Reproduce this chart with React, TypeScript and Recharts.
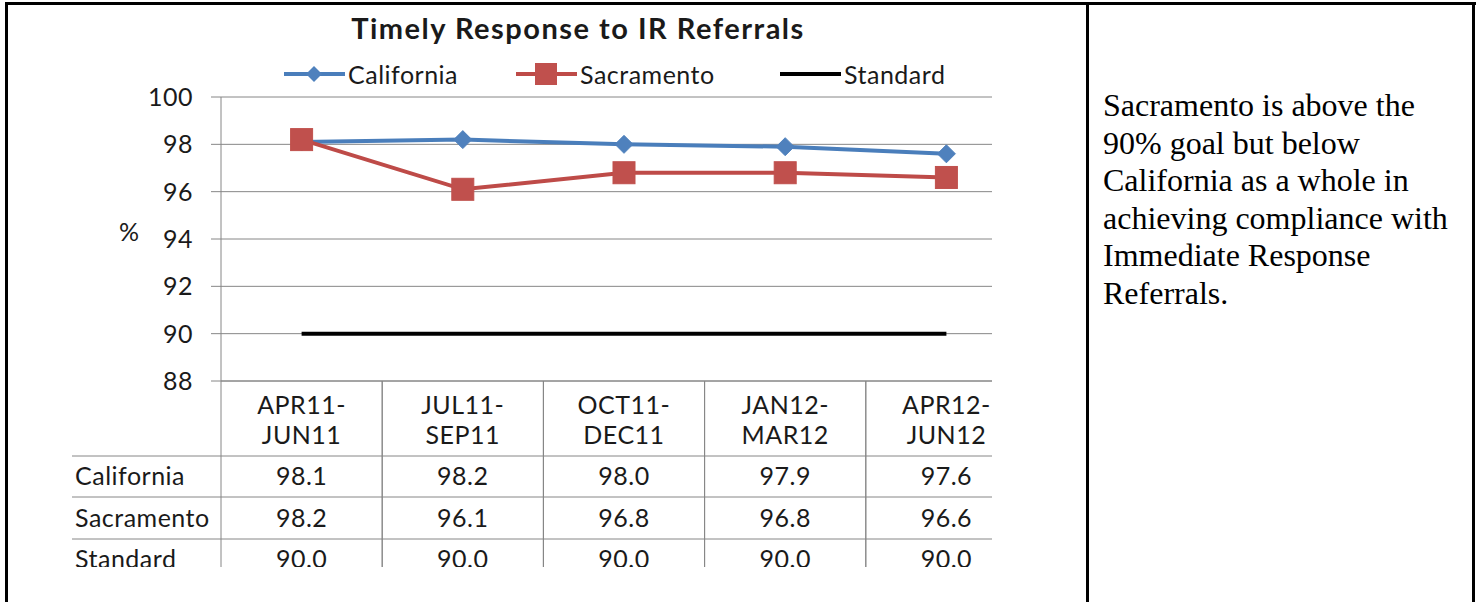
import React from "react";
import { LineChart, Line, XAxis, YAxis, CartesianGrid, Legend } from "recharts";

const categories = ["APR11-JUN11", "JUL11-SEP11", "OCT11-DEC11", "JAN12-MAR12", "APR12-JUN12"];
const californiaValues = [98.1, 98.2, 98.0, 97.9, 97.6];
const sacramentoValues = [98.2, 96.1, 96.8, 96.8, 96.6];
const standardValues = [90.0, 90.0, 90.0, 90.0, 90.0];
const yTicks = [88, 90, 92, 94, 96, 98, 100];
const seriesNames = ["California", "Sacramento", "Standard"];
const seriesColors = ["#4A7EBB", "#BE4B48", "#000000"];
const markerColors = ["#4F81BD", "#C0504D", "#000000"];
const seriesValues = [californiaValues, sacramentoValues, standardValues];
const titleText = "Timely Response to IR Referrals";
const noteText =
  "Sacramento is above the 90% goal but below California as a whole in achieving compliance with Immediate Response Referrals.";

const data = categories.map((c, i) => ({
  cat: c,
  California: californiaValues[i],
  Sacramento: sacramentoValues[i],
  Standard: standardValues[i],
}));

const FONT = "Lato, 'Open Sans', sans-serif";
const FS = 25;
const LS = 0.5;
const PLOT_LEFT = 221;
const PLOT_RIGHT = 1027;
const PLOT_TOP = 97;
const PLOT_H = 284;
const TABLE_H = 186;
const BAND = (PLOT_RIGHT - PLOT_LEFT) / categories.length;
const GRID = "#868686";
const TEXT = "#1a1a1a";

const Diamond = (props: any) => {
  const { cx, cy } = props;
  if (cx == null || cy == null) return null;
  const r = 9;
  return (
    <polygon
      points={`${cx},${cy - r} ${cx + r},${cy} ${cx},${cy + r} ${cx - r},${cy}`}
      fill={markerColors[0]}
      stroke={markerColors[0]}
      strokeWidth={1}
    />
  );
};

const Square = (props: any) => {
  const { cx, cy } = props;
  if (cx == null || cy == null) return null;
  const h = 11;
  return <rect x={cx - h} y={cy - h} width={h * 2} height={h * 2} fill={markerColors[1]} stroke={markerColors[1]} />;
};

const txt = { fontFamily: FONT, fontSize: FS, fill: TEXT, letterSpacing: LS } as const;

const TableTick = (props: any) => {
  const { x, y, payload, index } = props;
  const label: string = String(payload.value);
  const cut = label.indexOf("-") + 1;
  const l1 = label.slice(0, cut);
  const l2 = label.slice(cut);
  const left = x - BAND / 2;
  const right = x + BAND / 2;
  const rowLines = [75, 116, 158];
  const rowCenters = [94, 136, 177];
  return (
    <g>
      <line x1={left} y1={y} x2={left} y2={y + TABLE_H} stroke={GRID} strokeWidth={1} />
      <line x1={right} y1={y} x2={right} y2={y + TABLE_H} stroke={GRID} strokeWidth={1} />
      {rowLines.map((dy, k) => (
        <line key={k} x1={index === 0 ? 72 : left} y1={y + dy} x2={right} y2={y + dy} stroke={GRID} strokeWidth={1} />
      ))}
      <text x={x} y={y + 23} textAnchor="middle" dominantBaseline="central" {...txt}>
        {l1}
      </text>
      <text x={x} y={y + 53} textAnchor="middle" dominantBaseline="central" {...txt}>
        {l2}
      </text>
      {seriesValues.map((vals, k) => (
        <text key={k} x={x} y={y + rowCenters[k]} textAnchor="middle" dominantBaseline="central" {...txt}>
          {vals[index].toFixed(1)}
        </text>
      ))}
      {index === 0 &&
        seriesNames.map((n, k) => (
          <text key={"n" + k} x={75} y={y + rowCenters[k]} textAnchor="start" dominantBaseline="central" {...txt}>
            {n}
          </text>
        ))}
    </g>
  );
};

const legendLefts = [284, 516, 780];

const LegendContent = () => (
  <div style={{ position: "relative", width: 992, height: 30 }}>
    {seriesNames.map((n, i) => (
      <div
        key={n}
        style={{
          position: "absolute",
          left: legendLefts[i],
          top: 0,
          height: 30,
          display: "flex",
          alignItems: "center",
          fontFamily: FONT,
          fontSize: FS,
          letterSpacing: LS,
          color: TEXT,
          whiteSpace: "nowrap",
        }}
      >
        <svg width={61} height={30} style={{ display: "block" }}>
          <line x1={0} y1={15} x2={61} y2={15} stroke={seriesColors[i]} strokeWidth={4} />
          {i === 0 && <polygon points="30,7 38,15 30,23 22,15" fill={markerColors[0]} />}
          {i === 1 && <rect x={19} y={4} width={22} height={22} fill={markerColors[1]} />}
        </svg>
        <span style={{ marginLeft: 3 }}>{n}</span>
      </div>
    ))}
  </div>
);

export default function App() {
  return (
    <div style={{ position: "absolute", left: 0, top: 0, width: 1481, height: 602, background: "#fff", overflow: "hidden" }}>
      <div style={{ position: "absolute", left: 5, top: 2, width: 1471, height: 3, background: "#000" }} />
      <div style={{ position: "absolute", left: 5, top: 2, width: 3, height: 600, background: "#000" }} />
      <div style={{ position: "absolute", left: 1086, top: 2, width: 3, height: 600, background: "#000" }} />
      <div style={{ position: "absolute", left: 1472, top: 2, width: 3, height: 600, background: "#000" }} />

      <div
        style={{
          position: "absolute",
          left: 1103,
          top: 87,
          width: 352,
          fontFamily: "'Liberation Serif', 'Times New Roman', serif",
          fontSize: 32,
          lineHeight: "37.5px",
          color: "#000",
        }}
      >
        {noteText}
      </div>

      <div style={{ position: "absolute", left: 0, top: 0, width: 992, height: 567, overflow: "hidden" }}>
        <div
          style={{
            position: "absolute",
            left: 0,
            top: 11,
            width: 1156,
            textAlign: "center",
            fontFamily: FONT,
            fontWeight: 700,
            fontSize: 29,
            letterSpacing: 1.5,
            color: TEXT,
            lineHeight: "34px",
          }}
        >
          {titleText}
        </div>
        <LineChart
          width={PLOT_RIGHT}
          height={PLOT_TOP + PLOT_H + TABLE_H}
          data={data}
          margin={{ top: PLOT_TOP, right: 0, left: 0, bottom: 0 }}
        >
          <CartesianGrid horizontal vertical={false} stroke={GRID} strokeWidth={1} />
          <XAxis
            dataKey="cat"
            type="category"
            scale="point"
            padding={{ left: BAND / 2, right: BAND / 2 }}
            height={TABLE_H}
            interval={0}
            tickLine={false}
            tickSize={0}
            tickMargin={0}
            axisLine={{ stroke: GRID }}
            tick={<TableTick />}
          />
          <YAxis
            width={PLOT_LEFT}
            domain={[88, 100]}
            ticks={yTicks}
            interval={0}
            allowDataOverflow
            tickSize={10}
            tickMargin={18}
            axisLine={{ stroke: GRID }}
            tickLine={{ stroke: GRID }}
            tick={{ fontFamily: FONT, fontSize: FS, fill: TEXT, letterSpacing: LS }}
            label={{ value: "%", position: "insideLeft", offset: 119, dy: -7, fontFamily: FONT, fontSize: FS, fill: TEXT }}
          />
          <Legend verticalAlign="middle" layout="horizontal" wrapperStyle={{ top: 59, left: 0, width: 992, height: 30 }} content={<LegendContent />} />
          <Line
            dataKey="California"
            stroke={seriesColors[0]}
            strokeWidth={4}
            dot={<Diamond />}
            activeDot={false}
            isAnimationActive={false}
          />
          <Line
            dataKey="Sacramento"
            stroke={seriesColors[1]}
            strokeWidth={4}
            dot={<Square />}
            activeDot={false}
            isAnimationActive={false}
          />
          <Line
            dataKey="Standard"
            stroke={seriesColors[2]}
            strokeWidth={4}
            dot={false}
            activeDot={false}
            isAnimationActive={false}
          />
        </LineChart>
      </div>
    </div>
  );
}
